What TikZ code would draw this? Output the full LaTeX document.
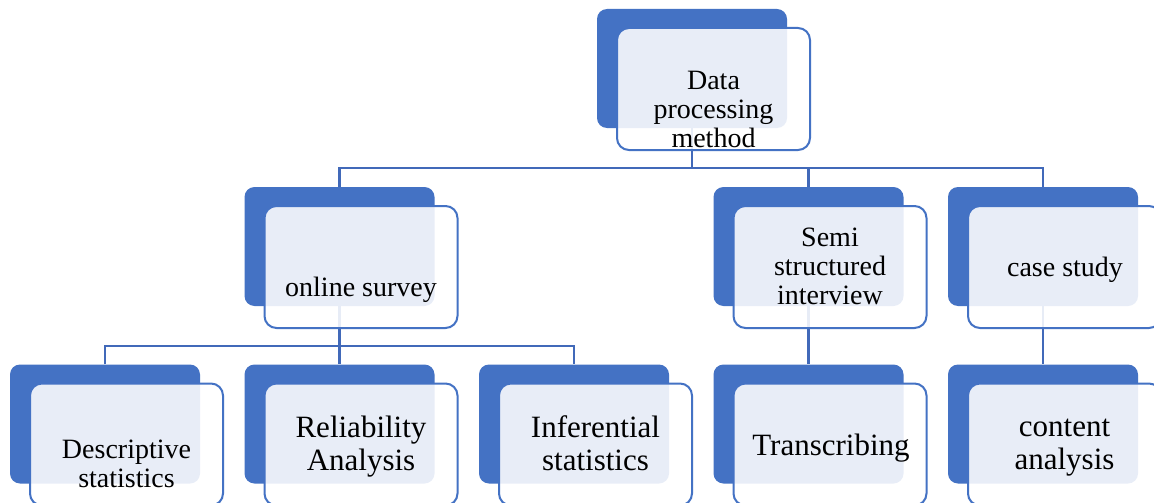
\documentclass[tikz,border=0pt]{standalone}
\usepackage{fontspec}
\setmainfont{Liberation Serif}
\begin{document}
\begin{tikzpicture}[x=1pt,y=-1pt,
  backbox/.style={rectangle, rounded corners=10pt, fill=blueA, draw=none,
    minimum width=190pt, minimum height=119pt, inner sep=0pt},
  frontbox/.style={rectangle, rounded corners=12pt, draw=blueA, line width=2pt,
    fill=white, fill opacity=0.88, minimum width=193pt, minimum height=122pt, inner sep=0pt},
  conn/.style={draw=blueL, line width=2.3pt},
  lbl/.style={anchor=base, align=center, inner sep=0pt, text=black},
  small/.style={font=\fontsize{28}{29}\selectfont},
  large/.style={font=\fontsize{31}{33}\selectfont}]
\definecolor{blueA}{HTML}{4472C4}
\definecolor{blueL}{HTML}{4169B9}
\clip (0,0) rectangle (1154,503);
\fill[white] (0,0) rectangle (1154,503);

% back panels
\node[backbox] (top) at (692,68.5) {};
\node[backbox] (os)  at (339.5,246.5) {};
\node[backbox] (ss)  at (808.5,246.5) {};
\node[backbox] (cs)  at (1043,246.5) {};
\node[backbox] (ds)  at (105,424) {};
\node[backbox] (ra)  at (339.5,424) {};
\node[backbox] (ia)  at (574,424) {};
\node[backbox] (tr)  at (808.5,424) {};
\node[backbox] (ca)  at (1043,424) {};

% connectors, drawn under the front panels
\draw[conn] (top.south) -- ++(0,39.5) coordinate (b1);
\draw[conn] (os.north) |- (b1) -| (ss.north);
\draw[conn] (b1) -| (cs.north);
\draw[conn] (os.south) -- ++(0,40) coordinate (b2);
\draw[conn] (ds.north) |- (b2) -| (ia.north);
\draw[conn] (b2) -- (ra.north);
\draw[conn] (ss.south) -- (tr.north);
\draw[conn] (cs.south) -- (ca.north);

% front panels
\foreach \n in {top,os,ss,cs,ds,ra,ia,tr,ca}{
  \node[frontbox] (\n f) at ([shift={(21.5,20.5)}]\n.center) {};
}

% labels (anchored at the baseline of the last line)
\node[lbl,small] (ttop) at (713.5,147) {Data\\processing\\method};
\node[lbl,small] (tos)  at (361,296)   {online survey};
\node[lbl,small] (tss)  at (830,304)   {Semi\\structured\\interview};
\node[lbl,small] (tcs)  at (1065,276)  {case study};
\node[lbl,small] (tds)  at (126.5,487) {Descriptive\\statistics};
\node[lbl,large] (tra)  at (361,470)   {Reliability\\Analysis};
\node[lbl,large] (tia)  at (595.5,470) {Inferential\\statistics};
\node[lbl,large] (ttr)  at (831,455)   {Transcribing};
\node[lbl,large] (tca)  at (1064.5,469){content\\analysis};
\end{tikzpicture}
\end{document}
